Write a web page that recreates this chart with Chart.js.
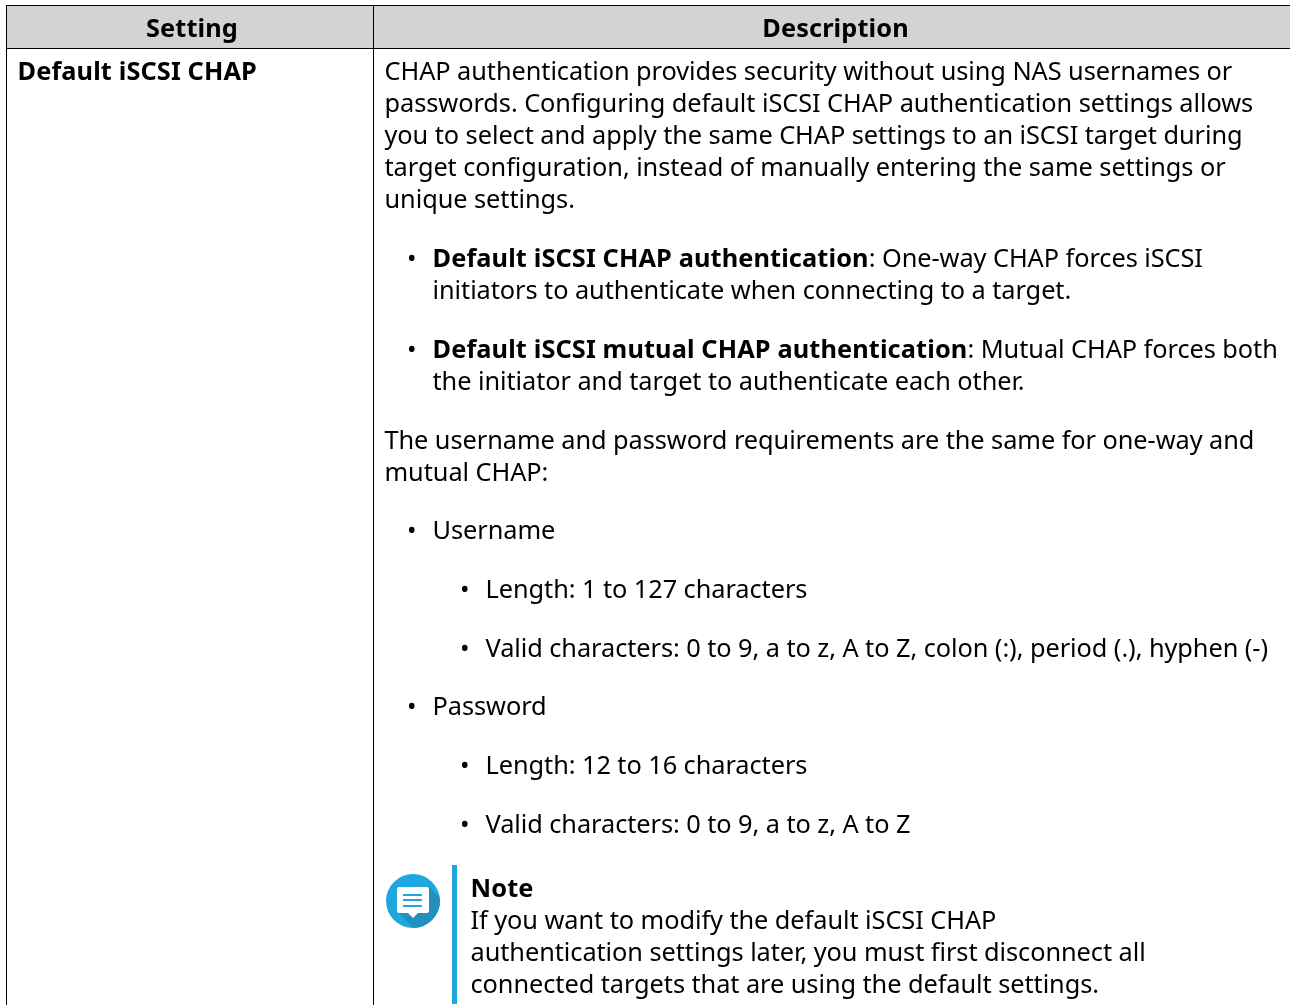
<!DOCTYPE html>
<html>
<head>
<meta charset="utf-8">
<title>Default iSCSI CHAP</title>
<script src="https://cdn.jsdelivr.net/npm/chart.js@4"></script>
<style>
    html, body { margin: 0; padding: 0; background: #fff; overflow: hidden; }
    canvas { display: block; }
</style>
</head>
<body>
<canvas id="table" width="1290" height="1005"></canvas>
<script>
const columnHeaders = ['Setting', 'Description'];
const settingNames = ['Default iSCSI CHAP'];
const introLines = [
    'CHAP authentication provides security without using NAS usernames or',
    'passwords. Configuring default iSCSI CHAP authentication settings allows',
    'you to select and apply the same CHAP settings to an iSCSI target during',
    'target configuration, instead of manually entering the same settings or',
    'unique settings.'
];
const oneWayTerm = 'Default iSCSI CHAP authentication';
const oneWayLines = [': One-way CHAP forces iSCSI', 'initiators to authenticate when connecting to a target.'];
const mutualTerm = 'Default iSCSI mutual CHAP authentication';
const mutualLines = [': Mutual CHAP forces both', 'the initiator and target to authenticate each other.'];
const requirementLines = [
    'The username and password requirements are the same for one-way and',
    'mutual CHAP:'
];
const usernameRules = ['Length: 1 to 127 characters', 'Valid characters: 0 to 9, a to z, A to Z, colon (:), period (.), hyphen (-)'];
const passwordRules = ['Length: 12 to 16 characters', 'Valid characters: 0 to 9, a to z, A to Z'];
const noteTitle = 'Note';
const noteLines = [
    'If you want to modify the default iSCSI CHAP',
    'authentication settings later, you must first disconnect all',
    'connected targets that are using the default settings.'
];

const FONT = '"Noto Sans"';
const SIZE = 25.33;
const LINE = 32;
const GAP = 26.67;
const BLUE = '#1fa8df';

function useRegular(ctx) {
    ctx.font = `${SIZE}px ${FONT}`;
    ctx.letterSpacing = '-0.06px';
}

function useBold(ctx) {
    ctx.font = `bold ${SIZE}px ${FONT}`;
    ctx.letterSpacing = '0.12px';
}

/**
 * Draws one paragraph and returns the baseline of the next one.
 */
function paragraph(ctx, x, y, lines, term, bullet) {
    if (bullet) {
        useRegular(ctx);
        ctx.fillText('\u2022', x - 25.5, Math.round(y));
    }
    lines.forEach((line, i) => {
        let left = x;
        if (i === 0 && term) {
            useBold(ctx);
            ctx.fillText(term, left, Math.round(y));
            left += ctx.measureText(term).width;
        }
        useRegular(ctx);
        ctx.fillText(line, left, Math.round(y));
        y += LINE;
    });
    return y + GAP;
}

function drawNoteIcon(ctx) {
    ctx.save();
    ctx.beginPath();
    ctx.arc(413, 901, 27, 0, Math.PI * 2);
    ctx.fillStyle = BLUE;
    ctx.fill();
    ctx.clip();
    ctx.beginPath();
    ctx.moveTo(397, 911);
    ctx.lineTo(429, 887);
    ctx.lineTo(462, 920);
    ctx.lineTo(440, 945);
    ctx.lineTo(425, 940);
    ctx.fillStyle = '#2090bc';
    ctx.fill();
    ctx.restore();

    ctx.fillStyle = '#fff';
    ctx.beginPath();
    ctx.roundRect(397, 887, 32, 26, 2);
    ctx.fill();
    ctx.beginPath();
    ctx.moveTo(408, 913);
    ctx.lineTo(413, 918);
    ctx.lineTo(418, 913);
    ctx.fill();

    ctx.fillStyle = BLUE;
    [894, 899, 905].forEach(y => ctx.fillRect(403, y, 19, 2));
}

const tablePlugin = {
    id: 'tablePlugin',
    afterDraw(chart) {
        const ctx = chart.ctx;
        const {x: xScale, y: yScale} = chart.scales;
        const px = v => xScale.getPixelForValue(v);
        const py = v => yScale.getPixelForValue(v);

        ctx.save();
        ctx.fillStyle = '#fff';
        ctx.fillRect(0, 0, chart.width, chart.height);

        // header band and rules
        ctx.fillStyle = '#d3d3d3';
        ctx.fillRect(px(6), py(6), px(1290) - px(6), py(48) - py(6));
        ctx.fillStyle = '#000';
        ctx.fillRect(px(6), py(5), px(1290) - px(6), 1);
        ctx.fillRect(px(6), py(48), px(1290) - px(6), 1);
        ctx.fillRect(px(6), py(5), 1, py(1005) - py(5));
        ctx.fillRect(px(373), py(5), 1, py(1005) - py(5));

        ctx.textBaseline = 'alphabetic';
        useBold(ctx);
        ctx.textAlign = 'center';
        ctx.fillText(columnHeaders[0], px(192), py(37));
        ctx.fillText(columnHeaders[1], px(835.5), py(37));
        ctx.textAlign = 'left';
        ctx.fillText(settingNames[0], px(17.5), py(80));

        // description column, top to bottom
        let y = py(80.49);
        y = paragraph(ctx, px(384.5), y, introLines);
        y = paragraph(ctx, px(432.5), y, oneWayLines, oneWayTerm, true);
        y = paragraph(ctx, px(432.5), y, mutualLines, mutualTerm, true);
        y = paragraph(ctx, px(384.5), y, requirementLines);
        y = paragraph(ctx, px(432.5), y, ['Username'], null, true);
        usernameRules.forEach(rule => { y = paragraph(ctx, px(485.5), y, [rule], null, true); });
        y = paragraph(ctx, px(432.5), y, ['Password'], null, true);
        passwordRules.forEach(rule => { y = paragraph(ctx, px(485.5), y, [rule], null, true); });

        // note box
        ctx.fillStyle = BLUE;
        ctx.fillRect(px(452), py(865), 5, py(1004) - py(865));
        drawNoteIcon(ctx);
        ctx.fillStyle = '#000';
        useBold(ctx);
        ctx.fillText(noteTitle, px(470.5), py(897));
        paragraph(ctx, px(470.5), py(929), noteLines);
        ctx.restore();
    }
};

new Chart(document.getElementById('table').getContext('2d'), {
    type: 'scatter',
    data: { datasets: [] },
    options: {
        responsive: false,
        animation: false,
        layout: { padding: 0 },
        plugins: { legend: { display: false }, tooltip: { enabled: false } },
        scales: {
            x: { type: 'linear', min: 0, max: 1290, display: false },
            y: { type: 'linear', min: 0, max: 1005, reverse: true, display: false }
        }
    },
    plugins: [tablePlugin]
});
</script>
</body>
</html>
